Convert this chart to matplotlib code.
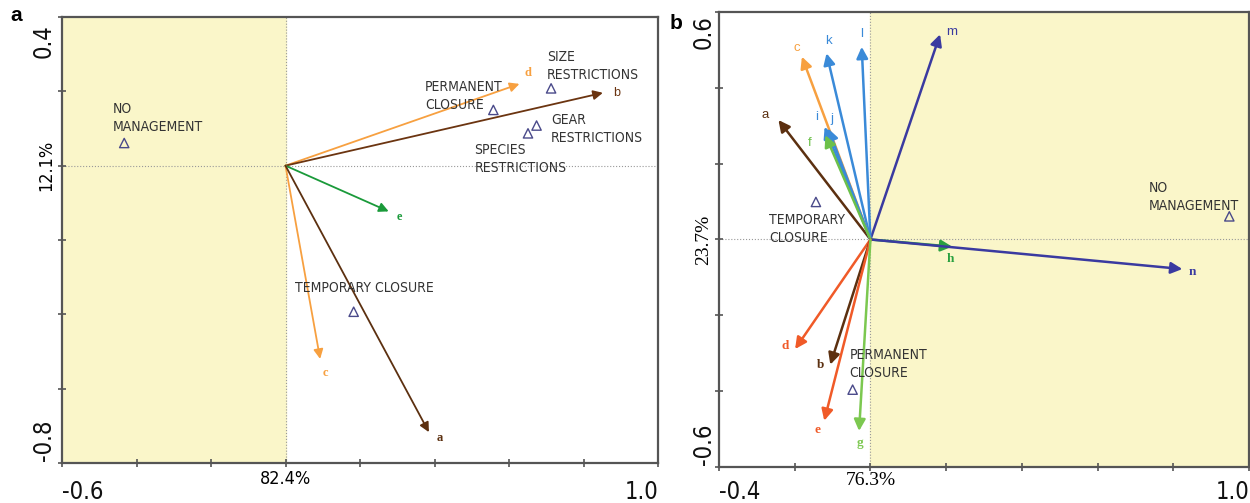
import matplotlib
matplotlib.use("Agg")
import matplotlib.pyplot as plt
from matplotlib import font_manager

plt.rcParams["font.family"] = ["Liberation Sans", "DejaVu Sans"]

# narrow face for the axis / site texts, if one is installed
_names = {(f.name, f.stretch) for f in font_manager.fontManager.ttflist}
if any(n == "Liberation Sans Narrow" for n, _ in _names):
    NARROW = dict(family="Liberation Sans Narrow")
elif ("DejaVu Sans", "condensed") in _names or ("DejaVu Sans", 600) in _names:
    NARROW = dict(family="DejaVu Sans", stretch="condensed")
else:
    NARROW = dict(family="Liberation Sans", stretch="condensed")
SERIF = ["Liberation Serif", "DejaVu Serif"]
SANS = ["Liberation Sans", "DejaVu Sans"]

SHADE = "#faf6c9"
SITE_EC = "#4a4a8a"
TXT = "#333333"
AX_C = "#555555"

# ---- panel a: variables (arrows) ----
A_VARS = ["d", "b", "e", "c", "a"]
A_X = [0.628, 0.852, 0.277, 0.093, 0.385]
A_Y = [0.220, 0.196, -0.123, -0.520, -0.717]
A_COLORS = ["#f7a040", "#6b3410", "#1a9a3a", "#f7a040", "#5c3010"]

# ---- panel a: sites ----
A_SITES = ["NO\nMANAGEMENT", "PERMANENT\nCLOSURE", "SIZE\nRESTRICTIONS",
           "GEAR\nRESTRICTIONS", "SPECIES\nRESTRICTIONS", "TEMPORARY CLOSURE"]
A_SX = [-0.433, 0.558, 0.713, 0.674, 0.651, 0.183]
A_SY = [0.061, 0.150, 0.208, 0.108, 0.087, -0.393]
A_LX = [-0.465, 0.374, 0.702, 0.713, 0.507, 0.026]
A_LY = [0.128, 0.188, 0.269, 0.098, 0.018, -0.329]

# ---- panel b: variables ----
B_VARS = ["m", "l", "k", "c", "a", "i", "j", "f", "h", "n", "d", "b", "e", "g"]
B_X = [0.184, -0.023, -0.116, -0.181, -0.243, -0.121, -0.112, -0.119,
       0.216, 0.824, -0.199, -0.106, -0.122, -0.030]
B_Y = [0.541, 0.508, 0.491, 0.482, 0.315, 0.297, 0.293, 0.275,
       -0.019, -0.078, -0.289, -0.330, -0.478, -0.505]
B_COLORS = ["#3a3aa0", "#3a8ad8", "#3a8ad8", "#f7a040", "#5c3010", "#3a8ad8",
            "#3a8ad8", "#6cc04a", "#2aa040", "#3a3aa0", "#f05a28", "#5c3010",
            "#f05a28", "#7cc850"]

# ---- panel b: sites ----
B_SITES = ["TEMPORARY\nCLOSURE", "NO\nMANAGEMENT", "PERMANENT\nCLOSURE"]
B_SX = [-0.144, 0.948, -0.047]
B_SY = [0.099, 0.061, -0.396]
B_LX = [-0.268, 0.735, -0.055]
B_LY = [0.028, 0.112, -0.329]

# label offsets (points) for arrow tips
A_OFF = [(6, 8), (10, 0), (8, -4), (4, -10), (8, -4)]
B_OFF = [(8, 2), (0, 9), (1.5, 9), (-4, 6), (-9.5, 3.5), (-5.8, 7), (3, 7), (-11.5, -5.5),
         (-1, -9), (7, -2), (-7, 2), (-7, 0), (-5, -7), (0.5, -9)]
SERIF_B = {"d", "b", "e", "g", "h", "n"}

fig = plt.figure(figsize=(12.5, 5.03), dpi=100)
axa = fig.add_axes([0.0496, 0.0795, 0.4768, 0.8867])
axb = fig.add_axes([0.5752, 0.0716, 0.4240, 0.9046])


def frame(ax, xlim, ylim):
    ax.set_xlim(*xlim)
    ax.set_ylim(*ylim)
    for s in ax.spines.values():
        s.set_color(AX_C)
        s.set_linewidth(1.6)
    ax.tick_params(direction="inout", length=6, width=1.2, color=AX_C)
    ax.axhline(0, color="#999999", lw=0.8, ls=":", zorder=1)
    ax.axvline(0, color="#999999", lw=0.8, ls=":", zorder=1)


def arrows(ax, xs, ys, cols, lw, ms):
    for x, y, c in zip(xs, ys, cols):
        ax.annotate("", xy=(x, y), xytext=(0, 0),
                    arrowprops=dict(arrowstyle="-|>", color=c, lw=lw,
                                    mutation_scale=ms, shrinkA=0, shrinkB=0),
                    zorder=3)


def end_labels(ax, xlo, xhi, ylo, yhi, xdown, yleft, ytop_frac, ybot_frac):
    kw = dict(xycoords="axes fraction", textcoords="offset points", fontsize=17,
              color="#111111", **NARROW)
    ax.annotate(xlo, (0, 0), xytext=(0, -xdown), ha="left", va="top", **kw)
    ax.annotate(xhi, (1, 0), xytext=(0, -xdown), ha="right", va="top", **kw)
    ax.annotate(ylo, (0, ybot_frac), xytext=(-yleft, 0), ha="right", va="center",
                rotation=90, **kw)
    ax.annotate(yhi, (0, ytop_frac), xytext=(-yleft, 0), ha="right", va="center",
                rotation=90, **kw)


# ---- panel a ----
frame(axa, (-0.6, 1.0), (-0.8, 0.4))
axa.axvspan(-0.6, 0, color=SHADE, zorder=0)
arrows(axa, A_X, A_Y, A_COLORS, 1.3, 14)
for n, x, y, c, (dx, dy) in zip(A_VARS, A_X, A_Y, A_COLORS, A_OFF):
    axa.annotate(n, (x, y), xytext=(dx, dy), textcoords="offset points", color=c,
                 fontsize=9, fontweight="bold" if n != "b" else "normal",
                 family=SANS if n == "b" else SERIF, ha="center", va="center")
axa.scatter(A_SX, A_SY, marker="^", s=45, facecolors="none", edgecolors=SITE_EC,
            linewidths=1.0, zorder=4)
for t, x, y in zip(A_SITES, A_LX, A_LY):
    axa.text(x, y, t, fontsize=10, color=TXT, ha="left", va="center", linespacing=1.35, **NARROW)
axa.set_xticks([-0.6, -0.4, -0.2, 0.0, 0.2, 0.4, 0.6, 0.8, 1.0])
axa.set_xticklabels(["", "", "", "82.4%", "", "", "", "", ""])
axa.set_yticks([-0.8, -0.6, -0.4, -0.2, 0.0, 0.2, 0.4])
axa.set_yticklabels(["", "", "", "", "12.1%", "", ""], rotation=90, va="center")
axa.tick_params(axis="x", pad=2)
axa.tick_params(axis="y", pad=2)
for lab in axa.get_xticklabels() + axa.get_yticklabels():
    lab.set_fontproperties(font_manager.FontProperties(size=13, **NARROW))
end_labels(axa, "-0.6", "1.0", "-0.8", "0.4", 12, 4.5, 0.946, 0.052)

# ---- panel b ----
frame(axb, (-0.4, 1.0), (-0.6, 0.6))
axb.axvspan(0, 1.0, color=SHADE, zorder=0)
arrows(axb, B_X, B_Y, B_COLORS, 1.8, 17)
for n, x, y, c, (dx, dy) in zip(B_VARS, B_X, B_Y, B_COLORS, B_OFF):
    serif = n in SERIF_B
    axb.annotate(n, (x, y), xytext=(dx, dy), textcoords="offset points", color=c,
                 fontsize=9.5, fontweight="bold" if serif else "normal",
                 family=SERIF if serif else SANS, ha="center", va="center")
axb.scatter(B_SX, B_SY, marker="^", s=45, facecolors="none", edgecolors=SITE_EC,
            linewidths=1.0, zorder=4)
for t, x, y in zip(B_SITES, B_LX, B_LY):
    axb.text(x, y, t, fontsize=10, color=TXT, ha="left", va="center", linespacing=1.35, **NARROW)
axb.set_xticks([-0.4, -0.2, 0.0, 0.2, 0.4, 0.6, 0.8, 1.0])
axb.set_xticklabels(["", "", "76.3%", "", "", "", "", ""])
axb.set_yticks([-0.6, -0.4, -0.2, 0.0, 0.2, 0.4, 0.6])
axb.set_yticklabels(["", "", "", "23.7%", "", "", ""], rotation=90, va="center")
axb.tick_params(axis="x", pad=0.5)
axb.tick_params(axis="y", pad=2)
for lab in axb.get_xticklabels() + axb.get_yticklabels():
    lab.set_fontsize(14)
    lab.set_family(SERIF)
end_labels(axb, "-0.4", "1.0", "-0.6", "0.6", 9.5, 2.5, 0.956, 0.05)

fig.text(0.008, 0.988, "a", fontsize=15, fontweight="bold", va="top", family=SANS)
fig.text(0.536, 0.972, "b", fontsize=15, fontweight="bold", va="top", family=SANS)

fig.savefig("out.png", dpi=100)
